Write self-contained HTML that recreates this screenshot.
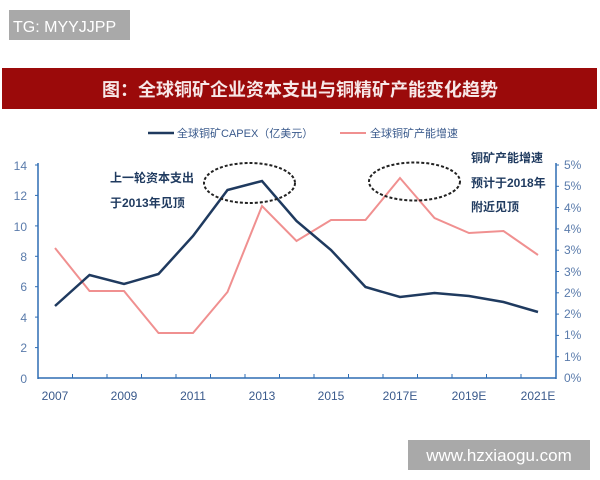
<!DOCTYPE html>
<html><head><meta charset="utf-8"><style>
html,body{margin:0;padding:0;background:#fff;}
body{width:600px;height:480px;position:relative;overflow:hidden;font-family:"Liberation Sans","Noto Sans CJK SC",sans-serif;}
</style></head><body>
<svg width="600" height="480" viewBox="0 0 600 480" xmlns="http://www.w3.org/2000/svg" style="position:absolute;left:0;top:0">
<rect x="9" y="10" width="121" height="30" fill="#a9a9a9"/>
<text x="13" y="32" font-family="Liberation Sans, sans-serif" font-size="16" fill="#fff">TG: MYYJJPP</text>
<rect x="2" y="68" width="595" height="41" fill="#9b0a0a"/>
<text x="300" y="96" text-anchor="middle" font-family="Liberation Sans, Noto Sans CJK SC, sans-serif" font-size="18" font-weight="bold" fill="#f7e8e8">图：全球铜矿企业资本支出与铜精矿产能变化趋势</text>
<g font-family="Liberation Sans, Noto Sans CJK SC, sans-serif" font-size="11" fill="#3a5a8c">
<line x1="148" y1="133" x2="174" y2="133" stroke="#1f3a5f" stroke-width="2.5"/>
<text x="177" y="137">全球铜矿CAPEX（亿美元）</text>
<line x1="340" y1="133" x2="366" y2="133" stroke="#f09090" stroke-width="2"/>
<text x="370" y="137">全球铜矿产能增速</text>
</g>
<g stroke="#2e6db4" stroke-width="1.5" fill="none">
<line x1="38" y1="163" x2="38" y2="379"/>
<line x1="556" y1="163" x2="556" y2="379"/>
<line x1="38" y1="378" x2="556" y2="378"/>
</g>
<g stroke="#2e6db4" stroke-width="1">
<line x1="35" y1="165" x2="38" y2="165"/><line x1="35" y1="195.4" x2="38" y2="195.4"/><line x1="35" y1="225.9" x2="38" y2="225.9"/><line x1="35" y1="256.3" x2="38" y2="256.3"/><line x1="35" y1="286.7" x2="38" y2="286.7"/><line x1="35" y1="317.1" x2="38" y2="317.1"/><line x1="35" y1="347.6" x2="38" y2="347.6"/>
<line x1="556" y1="165" x2="559" y2="165"/><line x1="556" y1="186.3" x2="559" y2="186.3"/><line x1="556" y1="207.6" x2="559" y2="207.6"/><line x1="556" y1="228.9" x2="559" y2="228.9"/><line x1="556" y1="250.2" x2="559" y2="250.2"/><line x1="556" y1="271.5" x2="559" y2="271.5"/><line x1="556" y1="292.8" x2="559" y2="292.8"/><line x1="556" y1="314.1" x2="559" y2="314.1"/><line x1="556" y1="335.4" x2="559" y2="335.4"/><line x1="556" y1="356.7" x2="559" y2="356.7"/>
<line x1="72.5" y1="374" x2="72.5" y2="378"/><line x1="107" y1="374" x2="107" y2="378"/><line x1="141.5" y1="374" x2="141.5" y2="378"/><line x1="176" y1="374" x2="176" y2="378"/><line x1="210.5" y1="374" x2="210.5" y2="378"/><line x1="245" y1="374" x2="245" y2="378"/><line x1="279.5" y1="374" x2="279.5" y2="378"/><line x1="314" y1="374" x2="314" y2="378"/><line x1="348.5" y1="374" x2="348.5" y2="378"/><line x1="383" y1="374" x2="383" y2="378"/><line x1="417.5" y1="374" x2="417.5" y2="378"/><line x1="452" y1="374" x2="452" y2="378"/><line x1="486.5" y1="374" x2="486.5" y2="378"/><line x1="521" y1="374" x2="521" y2="378"/>
</g>
<g font-family="Liberation Sans, sans-serif" font-size="12" fill="#5a7bab" text-anchor="end">
<text x="27" y="170">14</text><text x="27" y="200">12</text><text x="27" y="231">10</text><text x="27" y="261">8</text><text x="27" y="291">6</text><text x="27" y="322">4</text><text x="27" y="352">2</text><text x="27" y="383">0</text>
</g>
<g font-family="Liberation Sans, sans-serif" font-size="12" fill="#5a7bab">
<text x="564" y="169">5%</text><text x="564" y="190">5%</text><text x="564" y="212">4%</text><text x="564" y="233">4%</text><text x="564" y="254">3%</text><text x="564" y="276">3%</text><text x="564" y="297">2%</text><text x="564" y="318">2%</text><text x="564" y="339">1%</text><text x="564" y="361">1%</text><text x="564" y="382">0%</text>
</g>
<g font-family="Liberation Sans, sans-serif" font-size="12" fill="#3a5a8c" text-anchor="middle">
<text x="55" y="400">2007</text><text x="124" y="400">2009</text><text x="193" y="400">2011</text><text x="262" y="400">2013</text><text x="331" y="400">2015</text><text x="400" y="400">2017E</text><text x="469" y="400">2019E</text><text x="538" y="400">2021E</text>
</g>
<polyline fill="none" stroke="#f09090" stroke-width="2" points="55,248 89.5,291 124,291 158.5,333 193,333 227.5,292 262,206 296.5,241 331,220 365.5,220 400,178 434.5,218 469,233 503.5,231 538,255"/>
<polyline fill="none" stroke="#1f3a5f" stroke-width="2.5" points="55,306 89.5,275 124,284 158.5,274 193,236 227.5,190 262,181 296.5,221 331,250 365.5,287 400,297 434.5,293 469,296 503.5,302 538,312"/>
<ellipse cx="249.5" cy="183" rx="45.5" ry="20" fill="none" stroke="#222" stroke-width="2" stroke-dasharray="3,2"/>
<ellipse cx="414.5" cy="181.5" rx="45.5" ry="19" fill="none" stroke="#222" stroke-width="2" stroke-dasharray="3,2"/>
<g font-family="Liberation Sans, Noto Sans CJK SC, sans-serif" font-size="12" font-weight="bold" fill="#1f3a5f">
<text x="110" y="182">上一轮资本支出</text>
<text x="110" y="207">于2013年见顶</text>
<text x="471" y="162">铜矿产能增速</text>
<text x="471" y="187">预计于2018年</text>
<text x="471" y="211">附近见顶</text>
</g>
<rect x="408" y="440" width="182" height="30" fill="#a9a9a9"/>
<text x="499" y="461" text-anchor="middle" font-family="Liberation Sans, sans-serif" font-size="17" fill="#fff">www.hzxiaogu.com</text>
</svg>
</body></html>
